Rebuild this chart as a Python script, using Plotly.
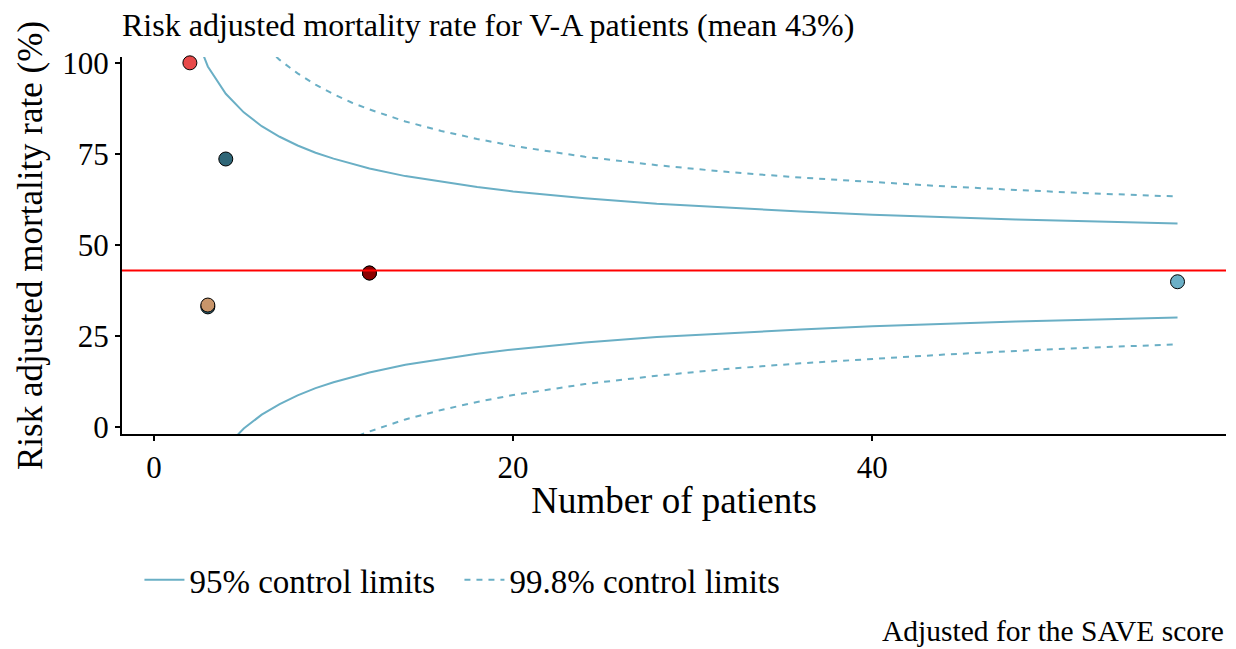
import plotly.graph_objects as go

# Funnel plot of risk-adjusted mortality for V-A patients
mean_rate = 43

# Control limits (%) by number of patients
n_limits = [2, 3, 4, 5, 6, 7, 8, 9, 10, 11, 12, 14, 16, 18, 20, 24, 28, 32, 36, 40, 44, 48, 52, 57]
upper_95 = [111.6, 99.0, 91.5, 86.4, 82.6, 79.7, 77.3, 75.3, 73.7, 72.3, 71.0, 68.9, 67.3, 65.9,
            64.7, 62.8, 61.3, 60.2, 59.2, 58.3, 57.6, 57.0, 56.5, 55.9]
lower_95 = [-25.6, -13.0, -5.5, -0.4, 3.4, 6.3, 8.7, 10.7, 12.3, 13.7, 15.0, 17.1, 18.7, 20.1,
            21.3, 23.2, 24.7, 25.8, 26.8, 27.7, 28.4, 29.0, 29.5, 30.1]
upper_998 = [151.2, 131.3, 119.5, 111.4, 105.4, 100.8, 97.1, 94.0, 91.4, 89.1, 87.2, 83.9, 81.3, 79.1,
             77.2, 74.2, 71.9, 70.0, 68.5, 67.2, 66.1, 65.1, 64.2, 63.3]
lower_998 = [-65.2, -45.3, -33.5, -25.4, -19.4, -14.8, -11.1, -8.0, -5.4, -3.1, -1.2, 2.1, 4.7, 6.9,
             8.8, 11.8, 14.1, 16.0, 17.5, 18.8, 19.9, 20.9, 21.8, 22.7]

# Centres
centre_n = [3, 2, 4, 3, 12, 12, 57]
centre_rate = [33.0, 100.0, 73.6, 33.5, 42.3, 42.3, 39.9]
centre_colors = ["#2F6677", "#E84A4A", "#2F6677", "#C8956A", "#6BAFC6", "#8B0000", "#6BAFC6"]

line_color = "#6AAFC5"
font_family = "Liberation Serif, Times New Roman, serif"

fig = go.Figure()

fig.add_trace(go.Scatter(x=n_limits, y=upper_95, mode="lines", name="95% control limits",
                         line=dict(color=line_color, width=2), legendgroup="95"))
fig.add_trace(go.Scatter(x=n_limits, y=lower_95, mode="lines", showlegend=False,
                         line=dict(color=line_color, width=2), legendgroup="95"))
fig.add_trace(go.Scatter(x=n_limits, y=upper_998, mode="lines", name="99.8% control limits",
                         line=dict(color=line_color, width=2, dash="6px,6px"), legendgroup="998"))
fig.add_trace(go.Scatter(x=n_limits, y=lower_998, mode="lines", showlegend=False,
                         line=dict(color=line_color, width=2, dash="6px,6px"), legendgroup="998"))

fig.add_hline(y=mean_rate, line=dict(color="#FF0000", width=2))

fig.add_trace(go.Scatter(x=centre_n, y=centre_rate, mode="markers", showlegend=False,
                         marker=dict(size=14, color=centre_colors,
                                     line=dict(color="black", width=1)),
                         cliponaxis=False))

axis_common = dict(showgrid=False, zeroline=False, showline=True, linecolor="black", linewidth=2,
                   ticks="outside", ticklen=5, tickwidth=1.5, tickcolor="black",
                   tickfont=dict(size=31, color="black", family=font_family))

fig.update_layout(
    width=1236, height=649,
    margin=dict(l=122, r=10, t=57, b=215),
    plot_bgcolor="white", paper_bgcolor="white",
    font=dict(family=font_family, color="black"),
    title=dict(text="Risk adjusted mortality rate for V-A patients (mean 43%)",
               x=122 / 1236, xanchor="left", y=1 - 25 / 649, yanchor="middle",
               font=dict(size=32, color="black", family=font_family)),
    xaxis=dict(range=[-1.78, 59.7], tickvals=[0, 20, 40],
               title=dict(text="Number of patients", font=dict(size=37), standoff=3),
               **axis_common),
    yaxis=dict(range=[-1.9, 101.6], tickvals=[0, 25, 50, 75, 100],
               title=dict(text="Risk adjusted mortality rate (%)", font=dict(size=35), standoff=9),
               **axis_common),
    legend=dict(orientation="h", x=0.0158, xanchor="left", y=-0.387, yanchor="middle",
                font=dict(size=33, color="black"), itemwidth=40, tracegroupgap=0,
                entrywidth=265, entrywidthmode="pixels"),
    annotations=[dict(text="Adjusted for the SAVE score", xref="paper", yref="paper",
                      x=1.0, xanchor="right", y=-0.5225, yanchor="middle", showarrow=False,
                      font=dict(size=29.5, color="black"))],
)

fig.write_html("out.html")
